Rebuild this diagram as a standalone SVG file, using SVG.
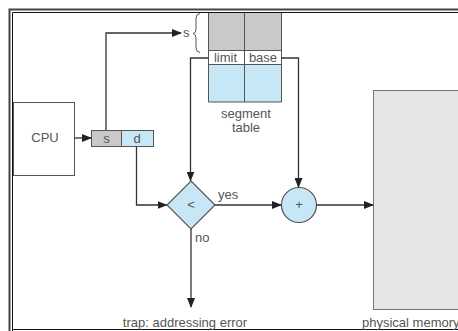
<svg xmlns="http://www.w3.org/2000/svg" width="458" height="331" viewBox="0 0 458 331">
<style>
.ln{fill:none;stroke:#333;stroke-width:1.3}
.bx{stroke:#555;stroke-width:1}
.t{font-family:"Liberation Sans",Arial,sans-serif;font-size:13px;fill:#555}
</style>
<defs>
<marker id="ah" markerWidth="10" markerHeight="8" refX="9" refY="4" orient="auto" markerUnits="userSpaceOnUse">
<path d="M0,0 L10,4 L0,8 z" fill="#222"/>
</marker>
</defs>
<rect width="458" height="331" fill="#fff"/>
<g id="frame">
<path d="M9.5,331 V9.5 H458" fill="none" stroke="#444" stroke-width="2"/>
<path d="M12.5,331 V12.5 H458" fill="none" stroke="#111" stroke-width="1"/>
<line x1="12" y1="329.5" x2="458" y2="329.5" stroke="#111" stroke-width="1"/>
</g>
<g id="cpu">
<rect class="bx" x="13.5" y="102.5" width="61" height="73" fill="#fff"/>
<text class="t" x="45" y="142" text-anchor="middle" font-size="12">CPU</text>
</g>
<g id="address">
<rect class="bx" x="91.5" y="130.5" width="30" height="16" fill="#c9c9c9"/>
<rect class="bx" x="121.5" y="130.5" width="32" height="16" fill="#c7e7f6"/>
<text class="t" x="106.5" y="143" text-anchor="middle" font-size="12">s</text>
<text class="t" x="137" y="143" text-anchor="middle" font-size="12">d</text>
</g>
<g id="segment-table">
<rect x="208.5" y="13" width="73" height="37.5" fill="#c9c9c9"/>
<rect x="208.5" y="64.5" width="73" height="37.5" fill="#c7e7f6"/>
<path d="M208.5,13 V102 H281.5 V13 M244.5,13 V102 M208.5,50.5 H281.5 M208.5,64.5 H281.5" fill="none" stroke="#555" stroke-width="1"/>
<text class="t" x="225.5" y="62" text-anchor="middle">limit</text>
<text class="t" x="263" y="62" text-anchor="middle">base</text>
<text class="t" x="246" y="118" text-anchor="middle">segment</text>
<text class="t" x="246" y="132" text-anchor="middle">table</text>
<path d="M200,13.5 Q196,14 196,18 V29 Q196,33 193,33.5 Q196,34 196,38 V48 Q196,52 200,52.5" fill="none" stroke="#555" stroke-width="1"/>
<text class="t" x="183" y="37">s</text>
</g>
<g id="compare">
<polygon points="191,181 215,205 191,229 167,205" fill="#c7e7f6" stroke="#555" stroke-width="1.2"/>
<text class="t" x="191" y="209" text-anchor="middle" font-size="12">&lt;</text>
</g>
<g id="adder">
<circle cx="299" cy="205" r="17.5" fill="#c7e7f6" stroke="#555" stroke-width="1.2"/>
<text class="t" x="299" y="209" text-anchor="middle" font-size="12">+</text>
</g>
<g id="memory">
<rect x="373.5" y="90.5" width="100" height="219" fill="#e6e6e6" stroke="#777" stroke-width="1"/>
<text class="t" x="362" y="327" font-size="12.5">physical memory</text>
</g>
<g id="connectors">
<line class="ln" x1="74.5" y1="138" x2="91" y2="138" marker-end="url(#ah)"/>
<polyline class="ln" points="106,130 106,33 181,33" marker-end="url(#ah)"/>
<polyline class="ln" points="208,58 190.5,58 190.5,180.5" marker-end="url(#ah)"/>
<polyline class="ln" points="281,58 298.5,58 298.5,187" marker-end="url(#ah)"/>
<polyline class="ln" points="136.5,146.5 136.5,205 166.5,205" marker-end="url(#ah)"/>
<line class="ln" x1="215" y1="205" x2="281" y2="205" marker-end="url(#ah)"/>
<line class="ln" x1="316.5" y1="205" x2="373" y2="205" marker-end="url(#ah)"/>
<line class="ln" x1="191" y1="229" x2="191" y2="307" marker-end="url(#ah)"/>
<text class="t" x="218" y="199">yes</text>
<text class="t" x="195" y="242">no</text>
<text class="t" x="185" y="327" text-anchor="middle">trap: addressing error</text>
</g>
</svg>
